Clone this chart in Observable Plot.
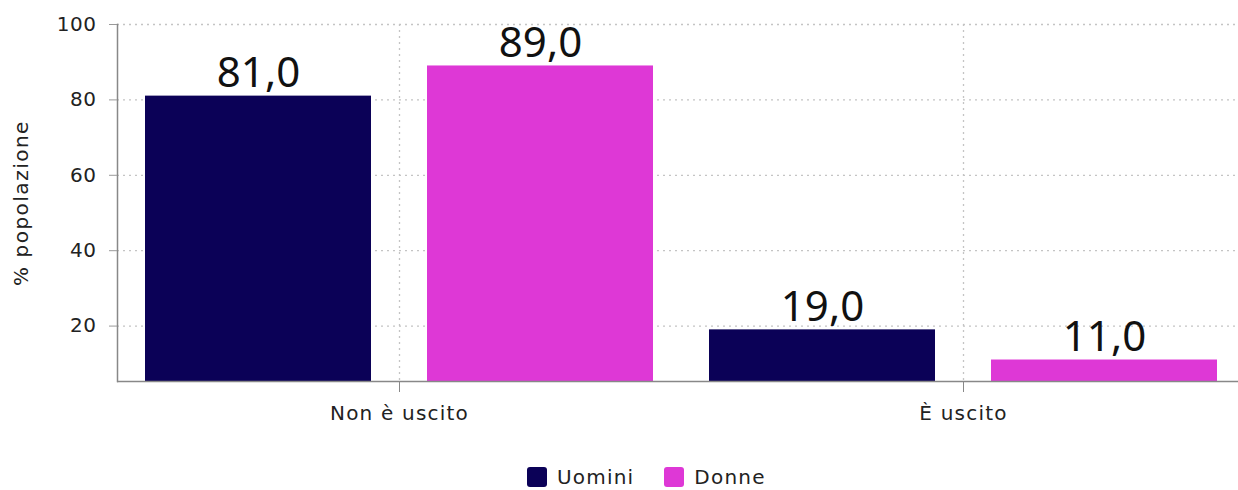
<!DOCTYPE html>
<html>
<head>
<meta charset="utf-8">
<script src="https://cdn.jsdelivr.net/npm/d3@7"></script>
<script src="https://cdn.jsdelivr.net/npm/@observablehq/plot@0.6"></script>
<style>
  html, body { margin: 0; padding: 0; background: #fff; overflow: hidden; width: 1238px; height: 490px; }
  body { font-family: "DejaVu Sans", sans-serif; color: #222; }
  #chart svg { display: block; }
  #chart g[aria-label="fx-axis tick label"] text { letter-spacing: 1.2px; }
  #chart g[aria-label="y-axis label"] text { letter-spacing: 1.5px; }
  #chart g[aria-label="y-axis tick label"] text { letter-spacing: 0.5px; }
  #legend { display: flex; align-items: center; margin-top: 26px; margin-left: 527px; height: 22px; font-size: 20px; letter-spacing: 1.2px; line-height: 22px; }
  .item { display: flex; align-items: center; margin-right: 30px; }
  .sw { width: 20px; height: 20px; border-radius: 3px; margin-right: 10px; }
</style>
</head>
<body>
<div id="chart"></div>
<div id="legend"></div>
<script>
const categories = ["Non è uscito", "È uscito"];
const groups = ["Uomini", "Donne"];
const uomini = [81.0, 19.0];
const donne = [89.0, 11.0];
const yTicks = [20, 40, 60, 80, 100];
const colors = ["#0b0157", "#de38d6"];
const yMin = 5.3;

const data = categories.flatMap((c, i) => [
  {cat: c, sex: groups[0], value: uomini[i]},
  {cat: c, sex: groups[1], value: donne[i]}
]);
const fmt = v => v.toFixed(1).replace(".", ",");

const plot = Plot.plot({
  width: 1238,
  height: 440,
  marginLeft: 117,
  marginRight: -7,
  marginTop: 24,
  marginBottom: 59,
  style: {fontFamily: "DejaVu Sans", fontSize: "20px", color: "#222", background: "#fff", overflow: "hidden"},
  fx: {domain: categories, padding: 0, label: null},
  x: {domain: groups, paddingInner: 0.2, paddingOuter: 0.1, axis: null},
  y: {domain: [yMin, 100], label: null},
  color: {domain: groups, range: colors},
  marks: [
    Plot.gridY(yTicks, {stroke: "#c4c4c4", strokeOpacity: 1, strokeDasharray: "2,4", strokeWidth: 1.3}),
    Plot.gridFx({stroke: "#c4c4c4", strokeOpacity: 1, strokeDasharray: "2,4", strokeWidth: 1.3}),
    Plot.barY(data, {fx: "cat", x: "sex", y: "value", fill: "sex", clip: true}),
    Plot.text(data, {fx: "cat", x: "sex", y: "value", text: d => fmt(d.value), lineAnchor: "bottom", dy: -9, fontSize: 42, fontFamily: "Noto Sans", fill: "#111"}),
    Plot.ruleY([yMin], {stroke: "#888", strokeWidth: 1.5}),
    Plot.frame({anchor: "left", facetAnchor: "left", stroke: "#888", strokeWidth: 1.5}),
    Plot.axisY(yTicks, {anchor: "left", tickSize: 8, tickPadding: 13, stroke: "#999", fill: "#222", fontSize: 20, label: "% popolazione", labelAnchor: "center", labelOffset: 104, labelArrow: "none"}),
    Plot.axisFx({anchor: "bottom", tickSize: 11, tickPadding: 13, stroke: "#888", fill: "#222", fontSize: 20, label: null})
  ]
});
document.getElementById("chart").appendChild(plot);

const legend = document.getElementById("legend");
groups.forEach((g, i) => {
  const item = document.createElement("div");
  item.className = "item";
  const sw = document.createElement("div");
  sw.className = "sw";
  sw.style.background = colors[i];
  const lab = document.createElement("span");
  lab.textContent = g;
  item.appendChild(sw);
  item.appendChild(lab);
  legend.appendChild(item);
});
</script>
</body>
</html>
